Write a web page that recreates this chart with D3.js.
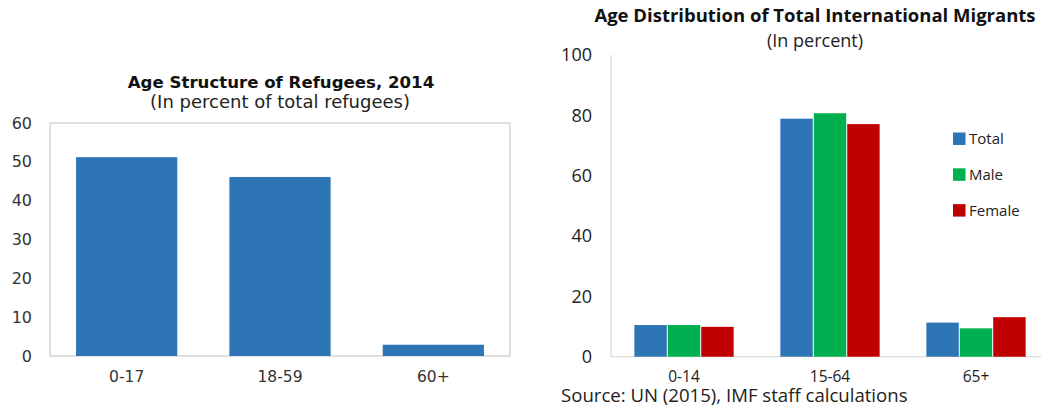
<!DOCTYPE html>
<html>
<head>
<meta charset="utf-8">
<script src="https://cdn.jsdelivr.net/npm/d3@7"></script>
<style>
  body { margin: 0; background: #fff; }
  svg { display: block; }
</style>
</head>
<body>
<svg width="1041" height="408"></svg>
<script>
// left chart: refugees
let refugeeAges = ["0-17", "18-59", "60+"];
let refugeeShares = [51.2, 46.1, 2.9];
let refugeeTicks = [0, 10, 20, 30, 40, 50, 60];

// right chart: migrants
let migrantAges = ["0-14", "15-64", "65+"];
let migrantSeries = ["Total", "Male", "Female"];
let migrantTotal = [10.5, 78.9, 11.3];
let migrantMale = [10.5, 80.7, 9.4];
let migrantFemale = [9.9, 77.1, 13.1];
let migrantTicks = [0, 20, 40, 60, 80, 100];

let svg = d3.select("svg");
let leftFont = "'DejaVu Sans', Verdana, sans-serif";
let rightFont = "'Open Sans', 'Noto Sans', sans-serif";

function leftChart() {
  let xScale = d3.scaleBand().domain(refugeeAges).range([50, 510])
    .paddingInner(0.34).paddingOuter(0.17);
  let yScale = d3.scaleLinear().domain([0, 60]).range([356, 123]);
  let g = svg.append("g");

  g.append("rect")
    .attr("x", 50).attr("y", 123)
    .attr("width", 460).attr("height", 233)
    .style("fill", "none").style("stroke", "#d0d0d0").style("stroke-width", 1.3);

  g.selectAll("rect.bar")
    .data(refugeeShares)
    .join("rect")
    .attr("class", "bar")
    .attr("x", (d, i) => xScale(refugeeAges[i]))
    .attr("y", d => yScale(d))
    .attr("width", xScale.bandwidth())
    .attr("height", d => yScale(0) - yScale(d))
    .style("fill", "#2e75b6");

  g.selectAll("text.ytick")
    .data(refugeeTicks)
    .join("text")
    .attr("class", "ytick")
    .attr("x", 32)
    .attr("y", d => yScale(d))
    .attr("dy", "0.35em")
    .attr("text-anchor", "end")
    .style("font", "16px " + leftFont)
    .style("fill", "#333")
    .text(d => d);

  g.selectAll("text.xtick")
    .data(refugeeAges)
    .join("text")
    .attr("class", "xtick")
    .attr("x", d => xScale(d) + xScale.bandwidth() / 2)
    .attr("y", 382)
    .attr("text-anchor", "middle")
    .style("font", "15.5px " + leftFont)
    .style("fill", "#333")
    .text(d => d);

  g.append("text")
    .attr("x", 281).attr("y", 88)
    .attr("text-anchor", "middle")
    .style("font", "bold 16.6px " + leftFont)
    .style("fill", "#111")
    .text("Age Structure of Refugees, 2014");

  g.append("text")
    .attr("x", 280).attr("y", 108)
    .attr("text-anchor", "middle")
    .style("font", "18px " + leftFont)
    .style("fill", "#222")
    .text("(In percent of total refugees)");
}

function rightChart() {
  let values = [migrantTotal, migrantMale, migrantFemale];
  let xScale = d3.scaleBand().domain(migrantAges).range([611, 1049])
    .paddingInner(0.32).paddingOuter(0.16);
  let subScale = d3.scaleBand().domain(migrantSeries).range([0, xScale.bandwidth()])
    .paddingInner(0.03);
  let yScale = d3.scaleLinear().domain([0, 100]).range([356.7, 55]);
  let fillScale = d3.scaleOrdinal().domain(migrantSeries)
    .range(["#2e75b6", "#00b050", "#c00000"]);
  let g = svg.append("g");

  g.append("line")
    .attr("x1", 611).attr("x2", 611).attr("y1", 55).attr("y2", 356.7)
    .style("stroke", "#d9d9d9").style("stroke-width", 1.3);
  g.append("line")
    .attr("x1", 611).attr("x2", 1041).attr("y1", 356.7).attr("y2", 356.7)
    .style("stroke", "#d9d9d9").style("stroke-width", 1.3);

  g.selectAll("g.series")
    .data(migrantSeries)
    .join("g")
    .attr("class", "series")
    .each(function(s, k) {
      d3.select(this).selectAll("rect")
        .data(values[k])
        .join("rect")
        .attr("x", (d, i) => xScale(migrantAges[i]) + subScale(s))
        .attr("y", d => yScale(d))
        .attr("width", subScale.bandwidth())
        .attr("height", d => yScale(0) - yScale(d))
        .style("fill", fillScale(s));
    });

  g.selectAll("text.ytick")
    .data(migrantTicks)
    .join("text")
    .attr("class", "ytick")
    .attr("x", 592)
    .attr("y", d => yScale(d))
    .attr("dy", "0.35em")
    .attr("text-anchor", "end")
    .style("font", "18px " + rightFont)
    .style("fill", "#222")
    .text(d => d);

  g.selectAll("text.xtick")
    .data(migrantAges)
    .join("text")
    .attr("class", "xtick")
    .attr("x", d => xScale(d) + xScale.bandwidth() / 2)
    .attr("y", 382)
    .attr("text-anchor", "middle")
    .style("font", "15.5px " + rightFont)
    .style("fill", "#222")
    .text(d => d);

  let legend = g.selectAll("g.legend")
    .data(migrantSeries)
    .join("g")
    .attr("class", "legend")
    .attr("transform", (d, i) => `translate(953, ${132.5 + i * 35.8})`);
  legend.append("rect")
    .attr("width", 12.5).attr("height", 12.5)
    .style("fill", d => fillScale(d));
  legend.append("text")
    .attr("x", 16).attr("y", 6.5)
    .attr("dy", "0.35em")
    .style("font", "15px " + rightFont)
    .style("fill", "#222")
    .text(d => d);

  g.append("text")
    .attr("x", 815).attr("y", 22)
    .attr("text-anchor", "middle")
    .style("font", "bold 18.5px " + rightFont)
    .style("fill", "#111")
    .text("Age Distribution of Total International Migrants");

  g.append("text")
    .attr("x", 815).attr("y", 47)
    .attr("text-anchor", "middle")
    .style("font", "18px " + rightFont)
    .style("fill", "#222")
    .text("(In percent)");

  g.append("text")
    .attr("x", 561).attr("y", 402)
    .style("font", "18.6px " + rightFont)
    .style("fill", "#222")
    .text("Source: UN (2015), IMF staff calculations");
}

leftChart();
rightChart();
</script>
</body>
</html>
